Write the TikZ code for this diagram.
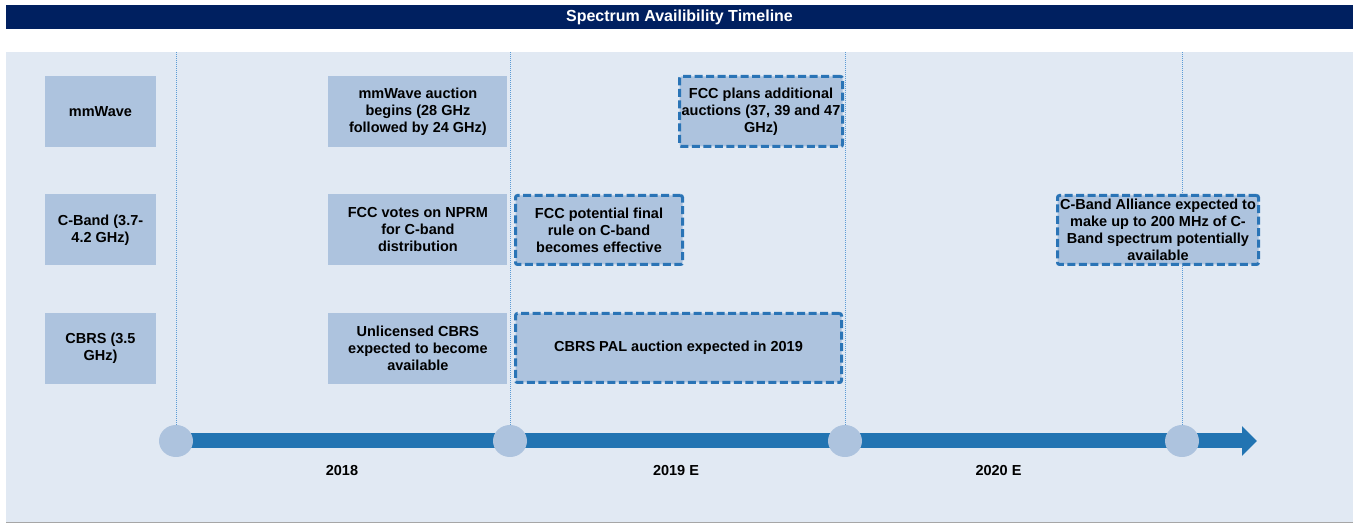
\documentclass[tikz,border=0pt]{standalone}
\usepackage{fontspec}
\setmainfont{Liberation Sans}
\usepackage{tikz}
\usetikzlibrary{arrows.meta,backgrounds,calc,positioning,shapes.geometric}
\definecolor{navy}{HTML}{002060}
\definecolor{panelbg}{HTML}{E1E9F3}
\definecolor{boxfill}{HTML}{ADC3DE}
\definecolor{dashblue}{HTML}{2A74B6}
\definecolor{axisblue}{HTML}{2274B2}
\definecolor{guideblue}{HTML}{5B9BD5}
\newcommand{\boxfont}{\fontsize{14.5}{17}\selectfont\bfseries}
\tikzstyle{titlebar}=[
  fill=navy,
  text=white,
  font={\fontsize{16}{18}\selectfont\bfseries},
  inner sep=0pt,
  minimum height=24pt,
  minimum width=1347pt,
  rectangle,
]
\tikzstyle{rowbox}=[
  fill=boxfill,
  font=\boxfont,
  inner sep=0pt,
  minimum height=71pt,
  minimum width=111pt,
  align=center,
  rectangle,
]
\tikzstyle{eventbox}=[
  rowbox,
  minimum width=179pt,
]
\tikzstyle{plannedbox}=[
  rowbox,
  draw=dashblue,
  line width=3pt,
  dash pattern=on 8pt off 3.5pt,
  rounded corners=2pt,
  minimum height=69pt,
]
\tikzstyle{marker}=[
  ellipse,
  fill=boxfill,
  inner sep=0pt,
  minimum width=34pt,
  minimum height=32pt,
]
\tikzstyle{guide}=[
  color=guideblue,
  line width=0.6pt,
  dash pattern=on 1pt off 1pt,
]
\tikzstyle{axis}=[
  color=axisblue,
  line width=15pt,
  -{Triangle[length=15pt,width=29pt]},
]
\tikzstyle{yearlabel}=[
  font=\boxfont,
  inner sep=0pt,
]
\tikzset{
  node distance=47pt,
}

\begin{document}
\begin{tikzpicture}[x=1pt,y=1pt]
      \useasboundingbox (0,0) rectangle (1353,525);
      \node (title) [titlebar] at (679.5,508) {Spectrum Availibility Timeline};
      \coordinate (guidetop) at (6,473);
      \coordinate (panelend) at (1353,2);
      %% rows
      \node (mmwave) [rowbox] at (100.5,413.5) {mmWave};
      \node (cband) [rowbox, below=of mmwave] {C-Band (3.7-\\4.2 GHz)};
      \node (cbrs) [rowbox, below=of cband] {CBRS (3.5\\GHz)};
      %% 2018
      \node (auction) [eventbox, right=172pt of mmwave] {mmWave auction\\begins (28 GHz\\followed by 24 GHz)};
      \node (votes) [eventbox, right=172pt of cband] {FCC votes on NPRM\\for C-band\\distribution};
      \node (unlicensed) [eventbox, right=172pt of cbrs] {Unlicensed CBRS\\expected to become\\available};
      %% 2019 E
      \node (finalrule) [plannedbox, minimum width=167pt] at (599,295) {FCC potential final\\rule on C-band\\becomes effective};
      \node (palauction) [plannedbox, minimum width=326pt] at (678.5,177) {CBRS PAL auction expected in 2019};
      \node (plans) [plannedbox, minimum width=163pt, minimum height=70pt] at (761,413.5) {FCC plans additional\\auctions (37, 39 and 47\\GHz)};
      %% 2020 E
      \node (alliance) [plannedbox, minimum width=201pt] at (1158,295) {C-Band Alliance expected to\\make up to 200 MHz of C-\\Band spectrum potentially\\available};
      %% timeline
      \node (m0) [marker] at (176,84) {};
      \node (m1) [marker] at (510,84) {};
      \node (m2) [marker] at (845,84) {};
      \node (m3) [marker] at (1182,84) {};
      \coordinate (tend) at (1257,84);
      \node (y2018) [yearlabel] at (342,54) {2018};
      \node (y2019) [yearlabel] at (676,54) {2019 E};
      \node (y2020) [yearlabel] at (998.5,54) {2020 E};
      \begin{pgfonlayer}{background}
        \fill [panelbg] (guidetop) rectangle (panelend);
        \draw [black!35, line width=1pt] (guidetop|-panelend) -- (panelend);
        \foreach \m in {m0,m1,m2,m3}
          \draw [guide] (\m.north) -- (\m.north|-guidetop);
        \draw [axis] (m0.center) -- (tend);
      \end{pgfonlayer}
    \end{tikzpicture}
\end{document}
